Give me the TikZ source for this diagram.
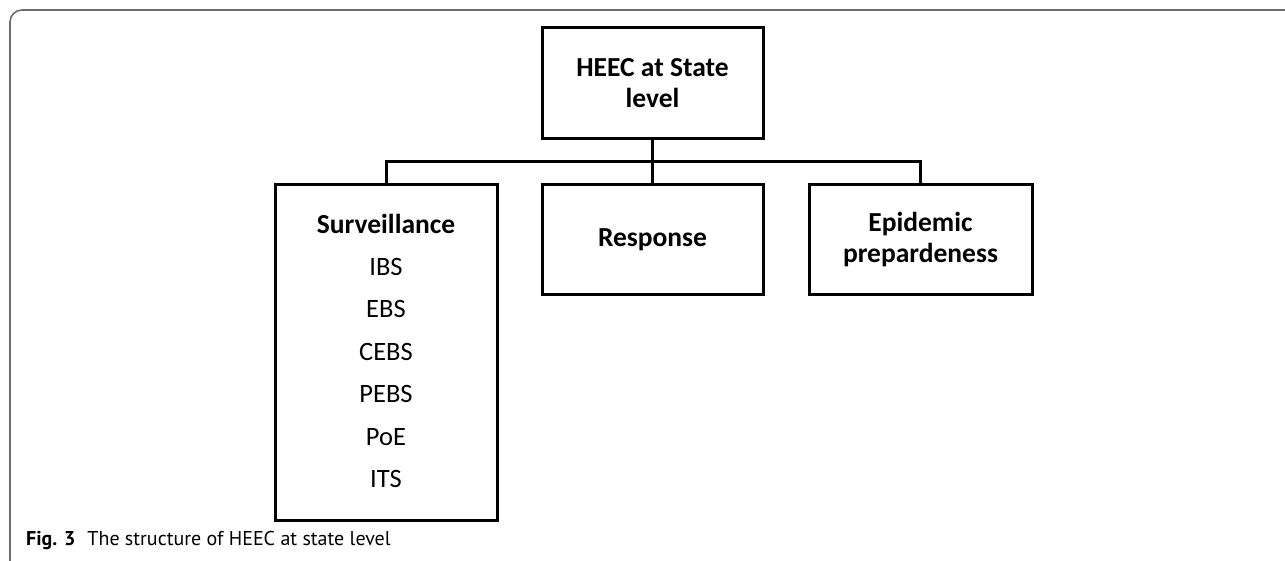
\documentclass[tikz,border=0pt]{standalone}
\usepackage{fontspec}
\setmainfont{Carlito}
\newfontfamily\capfont{PT Sans}
\begin{document}
\begin{tikzpicture}[x=1pt,y=-1pt,
  box/.style={draw=black, line width=3pt, rectangle, inner sep=0pt, outer sep=0pt},
  conn/.style={draw=black, line width=3pt},
  ttl/.style={font=\fontsize{27.5}{31}\selectfont\bfseries, align=center, inner sep=0pt},
  itm/.style={font=\fontsize{26.5}{30}\selectfont, anchor=base, inner sep=0pt},
  frame/.style={draw=black!58, line width=1.6pt, rounded corners=12pt}]
\useasboundingbox (0,0) rectangle (1285,561);
\draw[frame] (1285,10) -- (10,10) -- (10,561);
% boxes
\node[box, minimum width=221pt, minimum height=111pt] (top) at (652.5,83.5) {};
\node[ttl] (toptxt) at (top.center) {HEEC at State\\level};
\node[box, minimum width=222pt, minimum height=335pt] (surv) at (386,352.5) {};
\node[box, minimum width=221pt, minimum height=110pt] (resp) at (652.5,240) {};
\node[ttl] (resptxt) at (resp.center) {Response};
\node[box, minimum width=223pt, minimum height=110pt] (epi) at (920.5,240) {};
\node[ttl] (epitxt) at (epi.center) {Epidemic\\prepardeness};
% surveillance content
\node[itm, font=\fontsize{27.5}{31}\selectfont\bfseries] (s0) at (386,234) {Surveillance};
\node[itm] (s1) at (386,276) {IBS};
\node[itm] (s2) at (386,318) {EBS};
\node[itm] (s3) at (386,360) {CEBS};
\node[itm] (s4) at (386,402) {PEBS};
\node[itm] (s5) at (386,445) {PoE};
\node[itm] (s6) at (386,487) {ITS};
% connectors
\coordinate (bus) at (652.5,162);
\draw[conn] (top.south) -- (resp.north);
\draw[conn] (surv.north) |- (bus) -| (epi.north);
% caption
\node[anchor=base west, inner sep=0pt, font=\capfont\fontsize{20}{24}\selectfont] (cap) at (26,545) {\textbf{Fig. 3}\hspace{0.6em}The structure of HEEC at state level};
\end{tikzpicture}
\end{document}
